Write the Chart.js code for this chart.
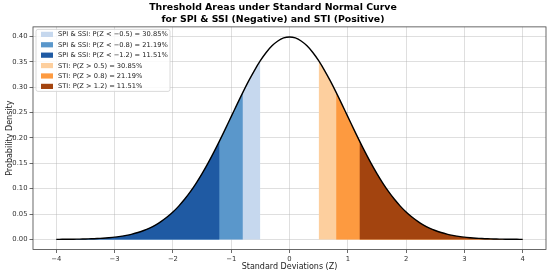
<!DOCTYPE html>
<html>
<head>
<meta charset="utf-8">
<script src="https://cdn.jsdelivr.net/npm/chart.js@4"></script>
<style>
  html, body { margin: 0; padding: 0; background: #fff; }
  #wrap { width: 550px; height: 273px; }
</style>
</head>
<body>
<div id="wrap"><canvas id="normalChart" width="550" height="273"></canvas></div>
<script>
// standard normal curve at 0.1 steps
var curveX = [-4.0, -3.9, -3.8, -3.7, -3.6, -3.5, -3.4, -3.3, -3.2, -3.1,
              -3.0, -2.9, -2.8, -2.7, -2.6, -2.5, -2.4, -2.3, -2.2, -2.1,
              -2.0, -1.9, -1.8, -1.7, -1.6, -1.5, -1.4, -1.3, -1.2, -1.1,
              -1.0, -0.9, -0.8, -0.7, -0.6, -0.5, -0.4, -0.3, -0.2, -0.1,
               0.0,  0.1,  0.2,  0.3,  0.4,  0.5,  0.6,  0.7,  0.8,  0.9,
               1.0,  1.1,  1.2,  1.3,  1.4,  1.5,  1.6,  1.7,  1.8,  1.9,
               2.0,  2.1,  2.2,  2.3,  2.4,  2.5,  2.6,  2.7,  2.8,  2.9,
               3.0,  3.1,  3.2,  3.3,  3.4,  3.5,  3.6,  3.7,  3.8,  3.9, 4.0];
var curveY = [0.0001, 0.0002, 0.0003, 0.0004, 0.0006, 0.0009, 0.0012, 0.0017, 0.0024, 0.0033,
              0.0044, 0.0060, 0.0079, 0.0104, 0.0136, 0.0175, 0.0224, 0.0283, 0.0355, 0.0440,
              0.0540, 0.0656, 0.0790, 0.0940, 0.1109, 0.1295, 0.1497, 0.1714, 0.1942, 0.2179,
              0.2420, 0.2661, 0.2897, 0.3123, 0.3332, 0.3521, 0.3683, 0.3814, 0.3910, 0.3970,
              0.3989, 0.3970, 0.3910, 0.3814, 0.3683, 0.3521, 0.3332, 0.3123, 0.2897, 0.2661,
              0.2420, 0.2179, 0.1942, 0.1714, 0.1497, 0.1295, 0.1109, 0.0940, 0.0790, 0.0656,
              0.0540, 0.0440, 0.0355, 0.0283, 0.0224, 0.0175, 0.0136, 0.0104, 0.0079, 0.0060,
              0.0044, 0.0033, 0.0024, 0.0017, 0.0012, 0.0009, 0.0006, 0.0004, 0.0003, 0.0002, 0.0001];

// tail areas (legend order); each one runs from its threshold out to the end of the curve
var areaLabels = ['SPI & SSI: P(Z < \u22120.5) = 30.85%',
                  'SPI & SSI: P(Z < \u22120.8) = 21.19%',
                  'SPI & SSI: P(Z < \u22121.2) = 11.51%',
                  'STI: P(Z > 0.5) = 30.85%',
                  'STI: P(Z > 0.8) = 21.19%',
                  'STI: P(Z > 1.2) = 11.51%'];
var areaFrom = [-4.0, -4.0, -4.0, 0.5, 0.8, 1.2];
var areaTo   = [-0.5, -0.8, -1.2, 4.0, 4.0, 4.0];
var areaColors = ['#c6d8ee', '#5a97cb', '#1f5aa3', '#fdcf9e', '#fd9a40', '#a3440f'];
// wider tails go underneath the narrower ones
var areaOrder = [3, 2, 1, 3, 2, 1];

var xTicks = [-4, -3, -2, -1, 0, 1, 2, 3, 4];
var yTicks = [0.00, 0.05, 0.10, 0.15, 0.20, 0.25, 0.30, 0.35, 0.40];

var FONT = "'DejaVu Sans', sans-serif";

var curvePts = curveX.map(function (x, i) { return { x: x, y: curveY[i] }; });

var datasets = areaLabels.map(function (lab, i) {
    return {
        label: lab,
        data: curvePts.filter(function (p) {
            return p.x >= areaFrom[i] - 1e-9 && p.x <= areaTo[i] + 1e-9;
        }),
        backgroundColor: areaColors[i],
        borderColor: areaColors[i],
        borderWidth: 0,
        pointRadius: 0,
        fill: 'origin',
        tension: 0,
        order: areaOrder[i]
    };
});
datasets.push({
    label: 'curve',
    data: curvePts,
    borderColor: '#000',
    borderWidth: 1.4,
    pointRadius: 0,
    fill: false,
    tension: 0.3,
    order: 0
});

// axes frame + legend box in the top-left corner of the plot
var framePlugin = {
    id: 'frame',
    afterDraw: function (chart) {
        var ctx = chart.ctx, a = chart.chartArea;
        ctx.save();
        ctx.strokeStyle = '#444';
        ctx.lineWidth = 0.8;
        ctx.strokeRect(a.left, a.top, a.right - a.left, a.bottom - a.top);

        var bx = a.left + 3, by = a.top + 2.5, bw = 134, bh = 62, rowH = 10.4;
        ctx.fillStyle = 'rgba(255,255,255,0.85)';
        ctx.strokeStyle = '#d0d0d0';
        ctx.lineWidth = 0.8;
        ctx.beginPath();
        ctx.roundRect(bx, by, bw, bh, 2);
        ctx.fill();
        ctx.stroke();

        ctx.font = '6.7px ' + FONT;
        ctx.textBaseline = 'middle';
        areaLabels.forEach(function (lab, i) {
            var cy = by + 5 + rowH * i;
            ctx.fillStyle = areaColors[i];
            ctx.fillRect(bx + 5, cy - 2.6, 12, 5.2);
            ctx.fillStyle = '#222';
            ctx.fillText(lab, bx + 22, cy + 0.3);
        });
        ctx.restore();
    }
};

var chart = new Chart(document.getElementById('normalChart').getContext('2d'), {
    type: 'line',
    data: { datasets: datasets },
    options: {
        responsive: false,
        animation: false,
        events: [],
        layout: { padding: { left: 0, right: 4, top: 0, bottom: 0 } },
        plugins: {
            legend: { display: false },
            tooltip: { enabled: false },
            title: {
                display: true,
                text: ['Threshold Areas under Standard Normal Curve',
                       'for SPI & SSI (Negative) and STI (Positive)'],
                color: '#000',
                font: { family: FONT, size: 9.4, weight: 'bold', lineHeight: 1.27 },
                padding: { top: 2, bottom: 1 }
            }
        },
        scales: {
            x: {
                type: 'linear',
                min: -4.4,
                max: 4.4,
                z: 1,
                afterFit: function (s) { s.height = 23.5; },
                afterBuildTicks: function (s) {
                    s.ticks = xTicks.map(function (v) { return { value: v }; });
                },
                ticks: {
                    color: '#333',
                    font: { family: FONT, size: 6.8 },
                    padding: 2,
                    maxRotation: 0,
                    callback: function (v) { return v < 0 ? '\u2212' + Math.abs(v) : String(v); }
                },
                grid: { color: 'rgba(176,176,176,0.5)', lineWidth: 0.8, tickLength: 3.5, tickColor: '#444' },
                border: { display: false },
                title: {
                    display: true,
                    text: 'Standard Deviations (Z)',
                    color: '#222',
                    font: { family: FONT, size: 8 },
                    padding: { top: 0, bottom: 1 }
                }
            },
            y: {
                type: 'linear',
                min: -0.0199,
                max: 0.4188,
                z: 1,
                afterFit: function (s) { s.width = 33; },
                afterBuildTicks: function (s) {
                    s.ticks = yTicks.map(function (v) { return { value: v }; });
                },
                ticks: {
                    color: '#333',
                    font: { family: FONT, size: 6.8 },
                    padding: 2,
                    callback: function (v) { return v.toFixed(2); }
                },
                grid: { color: 'rgba(176,176,176,0.5)', lineWidth: 0.8, tickLength: 3.5, tickColor: '#444' },
                border: { display: false },
                title: {
                    display: true,
                    text: 'Probability Density',
                    color: '#222',
                    font: { family: FONT, size: 8 },
                    padding: { top: 5, bottom: 2 }
                }
            }
        }
    },
    plugins: [framePlugin]
});
</script>
</body>
</html>
